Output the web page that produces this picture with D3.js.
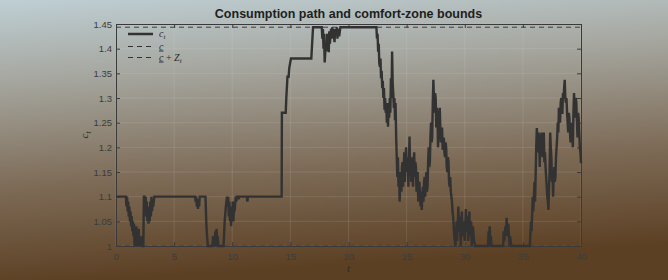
<!DOCTYPE html>
<html><head><meta charset="utf-8">
<script src="https://cdn.jsdelivr.net/npm/d3@7"></script>
<style>
html,body{margin:0;padding:0;}
body{width:668px;height:280px;overflow:hidden;}
</style></head>
<body><svg id="chart" width="668" height="280"></svg>
<script>
const title = "Consumption path and comfort-zone bounds";
const xTicks = [0, 5, 10, 15, 20, 25, 30, 35, 40];
const yTicks = [1, 1.05, 1.1, 1.15, 1.2, 1.25, 1.3, 1.35, 1.4, 1.45];
const yTickLabels = ["1", "1.05", "1.1", "1.15", "1.2", "1.25", "1.3", "1.35", "1.4", "1.45"];
const lowerBound = 1.0;
const upperBound = 1.4435;
// consumption path c_t as [t, c] pairs
const consumption = [
 [0,1.1],[0.85,1.1],[0.9,1.08],[0.95,1.1],[1.0,1.07],[1.05,1.09],[1.1,1.06],[1.15,1.08],[1.2,1.05],[1.25,1.07],[1.3,1.04],[1.35,1.06],[1.4,1.03],[1.45,1.05],[1.5,1.02],[1.55,1.045],[1.6,1.0],[1.65,1.03],[1.7,1.01],[1.75,1.04],[1.8,1.0],[1.85,1.02],[1.9,1.0],[1.95,1.035],[2.0,1.0],[2.05,1.015],[2.1,1.0],[2.2,1.02],[2.3,1.0],[2.35,1.0],[2.4,1.1],
 [2.45,1.1],[2.5,1.08],[2.55,1.1],[2.6,1.06],[2.65,1.09],[2.7,1.05],[2.75,1.08],[2.8,1.045],[2.85,1.07],[2.9,1.05],[2.95,1.09],[3.0,1.06],[3.05,1.1],[3.1,1.07],[3.15,1.09],[3.2,1.08],[3.3,1.1],
 [6.8,1.1],[6.85,1.09],[6.9,1.1],[6.95,1.08],[7.0,1.095],[7.05,1.075],[7.1,1.09],[7.15,1.08],[7.2,1.1],[7.7,1.1],[7.75,1.06],[7.8,1.03],[7.9,1.0],[8.3,1.0],[8.35,1.02],[8.4,1.0],[8.5,1.01],[8.55,1.03],[8.6,1.0],[8.65,1.035],[8.7,1.005],[8.75,1.02],[8.8,1.0],[9.25,1.0],[9.35,1.05],[9.45,1.08],[9.55,1.1],
 [9.6,1.08],[9.65,1.1],[9.7,1.06],[9.75,1.09],[9.8,1.05],[9.85,1.08],[9.9,1.04],[9.95,1.07],[10.0,1.06],[10.05,1.09],[10.1,1.05],[10.15,1.08],[10.2,1.07],[10.3,1.1],[10.35,1.09],[10.4,1.1],[10.5,1.1],[10.55,1.095],[10.6,1.1],[11.25,1.1],[11.3,1.09],[11.35,1.1],
 [14.25,1.1],[14.27,1.27],[14.6,1.27],[14.65,1.30],[14.75,1.343],[14.85,1.343],[14.9,1.36],[15.05,1.38],[16.8,1.38],[16.95,1.4435],[17.7,1.4435],
 [17.75,1.42],[17.8,1.44],[17.85,1.40],[17.9,1.43],[17.95,1.372],[18.05,1.41],[18.1,1.395],[18.15,1.43],[18.2,1.40],[18.25,1.42],[18.3,1.393],[18.35,1.435],[18.4,1.41],[18.5,1.44],[18.55,1.42],[18.6,1.4435],[18.65,1.425],[18.7,1.44],[18.8,1.413],[18.85,1.44],[18.9,1.43],[19.0,1.4435],[19.05,1.42],[19.1,1.44],[19.2,1.425],[19.3,1.4435],
 [22.4,1.4435],[22.45,1.42],[22.5,1.43],[22.55,1.394],[22.6,1.41],[22.65,1.37],[22.7,1.363],[22.75,1.38],[22.8,1.34],[22.85,1.355],[22.9,1.32],[22.95,1.335],[23.0,1.30],[23.05,1.32],[23.1,1.276],[23.15,1.30],[23.2,1.27],[23.25,1.29],[23.3,1.25],[23.35,1.28],[23.4,1.242],[23.45,1.29],[23.5,1.26],[23.55,1.30],[23.6,1.27],[23.65,1.34],[23.7,1.30],[23.75,1.394],[23.8,1.33],[23.85,1.31],[23.9,1.28],[23.95,1.30],[24.0,1.255],[24.05,1.29],[24.1,1.22],[24.15,1.18],[24.2,1.14],[24.25,1.18],[24.3,1.12],[24.35,1.15],[24.4,1.09],[24.45,1.13],
 [24.5,1.15],[24.55,1.11],[24.6,1.16],[24.65,1.17],[24.7,1.12],[24.75,1.16],[24.8,1.19],[24.85,1.13],[24.9,1.17],[24.95,1.2],[25.0,1.15],[25.05,1.17],[25.1,1.18],[25.15,1.12],[25.2,1.17],[25.25,1.222],[25.3,1.16],[25.35,1.18],[25.4,1.13],[25.45,1.18],[25.5,1.15],[25.55,1.12],[25.6,1.16],[25.65,1.19],[25.7,1.14],[25.75,1.17],[25.8,1.16],[25.85,1.11],[25.9,1.14],[25.95,1.15],[26.0,1.09],[26.05,1.12],[26.1,1.13],[26.15,1.10],[26.2,1.08],[26.25,1.11],[26.3,1.073],[26.35,1.10],[26.4,1.12],[26.45,1.09],[26.5,1.13],[26.55,1.14],[26.6,1.10],[26.65,1.13],[26.7,1.15],[26.75,1.11],[26.8,1.12],[26.85,1.17],[26.9,1.2],[26.95,1.16],[27.0,1.17],[27.05,1.22],[27.1,1.25],[27.15,1.21],[27.2,1.22],[27.25,1.29],[27.3,1.337],
 [27.35,1.30],[27.4,1.27],[27.45,1.31],[27.5,1.30],[27.55,1.24],[27.6,1.28],[27.65,1.27],[27.7,1.20],[27.75,1.23],[27.8,1.25],[27.85,1.28],[27.9,1.24],[27.95,1.21],[28.0,1.23],[28.05,1.24],[28.1,1.195],[28.15,1.21],[28.2,1.22],[28.25,1.19],[28.3,1.18],[28.35,1.21],[28.4,1.2],[28.45,1.16],[28.5,1.15],[28.55,1.18],[28.6,1.17],[28.65,1.13],[28.7,1.12],[28.75,1.14],[28.8,1.11],[28.85,1.10],[28.9,1.09],[28.95,1.07],[29.0,1.06],[29.05,1.04],[29.1,1.02],[29.15,1.01],[29.2,1.0],
 [29.3,1.05],[29.35,1.01],[29.45,1.08],[29.5,1.03],[29.6,1.06],[29.65,1.0],[29.75,1.07],[29.8,1.02],[29.9,1.05],[30.0,1.01],[30.1,1.075],[30.15,1.03],[30.25,1.06],[30.3,1.01],[30.4,1.07],[30.45,1.02],[30.55,1.05],[30.6,1.0],[30.7,1.04],[30.8,1.01],[30.9,1.0],
 [32.0,1.0],[32.05,1.03],[32.1,1.01],[32.15,1.04],[32.2,1.0],[32.25,1.02],[32.3,1.0],
 [33.3,1.0],[33.35,1.03],[33.4,1.01],[33.5,1.04],[33.55,1.02],[33.6,1.057],[33.7,1.02],[33.75,1.045],[33.85,1.0],[33.9,1.02],[34.0,1.0],[34.1,1.0],
 [35.6,1.0],[35.7,1.05],[35.75,1.03],[35.85,1.1],[35.9,1.07],[36.0,1.13],[36.05,1.09],[36.15,1.2],[36.2,1.239],[36.25,1.2],[36.3,1.19],[36.35,1.23],[36.4,1.22],[36.45,1.16],[36.5,1.21],[36.55,1.2],[36.6,1.23],[36.65,1.2],[36.7,1.18],[36.75,1.22],[36.8,1.23],[36.85,1.17],[36.9,1.19],[36.95,1.16],[37.0,1.14],[37.05,1.12],[37.1,1.1],[37.15,1.09],[37.2,1.073],[37.25,1.12],[37.3,1.15],[37.35,1.23],[37.4,1.2],[37.45,1.18],[37.5,1.13],[37.55,1.15],[37.6,1.1],[37.65,1.14],[37.7,1.16],[37.75,1.13],[37.8,1.14],[37.85,1.18],[37.9,1.2],[37.95,1.22],
 [38.0,1.25],[38.05,1.23],[38.1,1.28],[38.15,1.26],[38.2,1.25],[38.25,1.29],[38.3,1.30],[38.35,1.27],[38.4,1.27],[38.45,1.31],[38.5,1.30],[38.55,1.32],[38.6,1.337],[38.65,1.30],[38.7,1.29],[38.75,1.30],[38.8,1.27],[38.85,1.25],[38.9,1.23],[38.95,1.27],[39.0,1.26],[39.05,1.23],[39.1,1.21],[39.15,1.25],[39.2,1.24],[39.25,1.22],[39.3,1.2],[39.35,1.27],[39.4,1.31],[39.45,1.28],[39.5,1.26],[39.55,1.3],[39.6,1.29],[39.65,1.25],[39.7,1.22],[39.75,1.27],[39.8,1.26],[39.85,1.23],[39.9,1.2],[39.95,1.19],[40.0,1.168]
];

const W = 668, H = 280;
const margin = {left: 116, right: 668 - 581, top: 24, bottom: 280 - 246};
const svg = d3.select("#chart");

const defs = svg.append("defs");
const grad = defs.append("linearGradient").attr("id", "bg").attr("x1", 0).attr("y1", 0).attr("x2", 0.15).attr("y2", 1);
grad.append("stop").attr("offset", "0%").attr("stop-color", "#bfcfd4");
grad.append("stop").attr("offset", "30%").attr("stop-color", "#a4a49c");
grad.append("stop").attr("offset", "65%").attr("stop-color", "#7e6c58");
grad.append("stop").attr("offset", "100%").attr("stop-color", "#5c4024");
svg.append("rect").attr("width", W).attr("height", H).attr("fill", "url(#bg)");

const x = d3.scaleLinear().domain([0, 40]).range([margin.left, W - margin.right]);
const y = d3.scaleLinear().domain([1, 1.45]).range([H - margin.bottom, margin.top]);

// grid
const g = svg.append("g");
g.selectAll(".vg").data(xTicks).join("line")
  .attr("x1", d => x(d)).attr("x2", d => x(d)).attr("y1", y(1)).attr("y2", y(1.45))
  .attr("stroke", "#e4e4e4").attr("stroke-opacity", 0.12).attr("stroke-width", 1);
g.selectAll(".hg").data(yTicks).join("line")
  .attr("y1", d => y(d)).attr("y2", d => y(d)).attr("x1", x(0)).attr("x2", x(40))
  .attr("stroke", "#e4e4e4").attr("stroke-opacity", 0.12).attr("stroke-width", 1);

// axes
const axColor = "#3a3a3a";
const xAxis = svg.append("g").attr("transform", `translate(0,${y(1)})`)
  .call(d3.axisBottom(x).tickValues(xTicks).tickSize(-4).tickPadding(7).tickFormat(d3.format("d")));
const xTop = svg.append("g").attr("transform", `translate(0,${y(1.45)})`)
  .call(d3.axisTop(x).tickValues(xTicks).tickSize(-4).tickFormat(""));
const yAxis = svg.append("g").attr("transform", `translate(${x(0)},0)`)
  .call(d3.axisLeft(y).tickValues(yTicks).tickSize(-4).tickPadding(4).tickFormat((d, i) => yTickLabels[i]));
const yRight = svg.append("g").attr("transform", `translate(${x(40)},0)`)
  .call(d3.axisRight(y).tickValues(yTicks).tickSize(-4).tickFormat(""));
[xAxis, xTop, yAxis, yRight].forEach(a => {
  a.select(".domain").attr("stroke", axColor).attr("stroke-width", 1);
  a.selectAll(".tick line").attr("stroke", axColor);
  a.selectAll("text").attr("fill", "#3c3c3c").attr("font-family", "Liberation Sans, Arial, sans-serif").attr("font-size", 9.5);
});

// bounds
const bounds = [lowerBound, upperBound];
svg.selectAll(".bound").data(bounds).join("line")
  .attr("x1", x(0)).attr("x2", x(40)).attr("y1", d => y(d)).attr("y2", d => y(d))
  .attr("stroke", "#3d3d3d").attr("stroke-width", 1).attr("stroke-dasharray", "5,4");

// path
svg.append("path").datum(consumption)
  .attr("d", d3.line().x(d => x(d[0])).y(d => y(d[1])))
  .attr("fill", "none").attr("stroke", "#323232").attr("stroke-width", 2.4).attr("stroke-linejoin", "miter").attr("stroke-miterlimit", 2);

// title
svg.append("text").attr("x", (x(0) + x(40)) / 2).attr("y", 18).attr("text-anchor", "middle")
  .attr("font-family", "Liberation Sans, Arial, sans-serif").attr("font-weight", "bold").attr("font-size", 12.5)
  .attr("fill", "#1e1e1e").text(title);

// axis labels
const serif = "Liberation Serif, DejaVu Serif, serif";
svg.append("text").attr("x", x(20)).attr("y", 272).attr("text-anchor", "middle")
  .attr("font-family", serif).attr("font-style", "italic").attr("font-size", 11).attr("fill", "#2a2a2a").text("t");
const yl = svg.append("text").attr("transform", `translate(88,${(y(1) + y(1.45)) / 2}) rotate(-90)`).attr("text-anchor", "middle")
  .attr("font-family", serif).attr("font-style", "italic").attr("font-size", 11).attr("fill", "#2a2a2a");
yl.append("tspan").text("c");
yl.append("tspan").attr("font-size", 7.5).attr("dy", 2.5).text("t");

// legend
const legendItems = [
  {dash: null, w: 2.5},
  {dash: "5,4", w: 1},
  {dash: "5,4", w: 1}
];
const ly = [34, 46.5, 57.5];
legendItems.forEach((it, i) => {
  svg.append("line").attr("x1", 128).attr("x2", 153).attr("y1", ly[i]).attr("y2", ly[i])
    .attr("stroke", "#333").attr("stroke-width", it.w).attr("stroke-dasharray", it.dash);
});
const lfs = 10;
const lt0 = svg.append("text").attr("x", 159).attr("y", ly[0] + 3).attr("font-family", serif).attr("font-style", "italic").attr("font-size", lfs).attr("fill", "#2a2a2a");
lt0.append("tspan").text("c");
lt0.append("tspan").attr("font-size", 7).attr("dy", 2).text("t");
const lt1 = svg.append("text").attr("x", 159).attr("y", ly[1] + 3).attr("font-family", serif).attr("font-style", "italic").attr("font-size", lfs).attr("fill", "#2a2a2a");
lt1.append("tspan").attr("text-decoration", "underline").text("c");
const lt2 = svg.append("text").attr("x", 159).attr("y", ly[2] + 3).attr("font-family", serif).attr("font-style", "italic").attr("font-size", lfs).attr("fill", "#2a2a2a");
lt2.append("tspan").attr("text-decoration", "underline").text("c");
lt2.append("tspan").attr("font-style", "normal").text(" + ");
lt2.append("tspan").text("Z");
lt2.append("tspan").attr("font-size", 7).attr("dy", 2).text("t");
</script></body></html>
